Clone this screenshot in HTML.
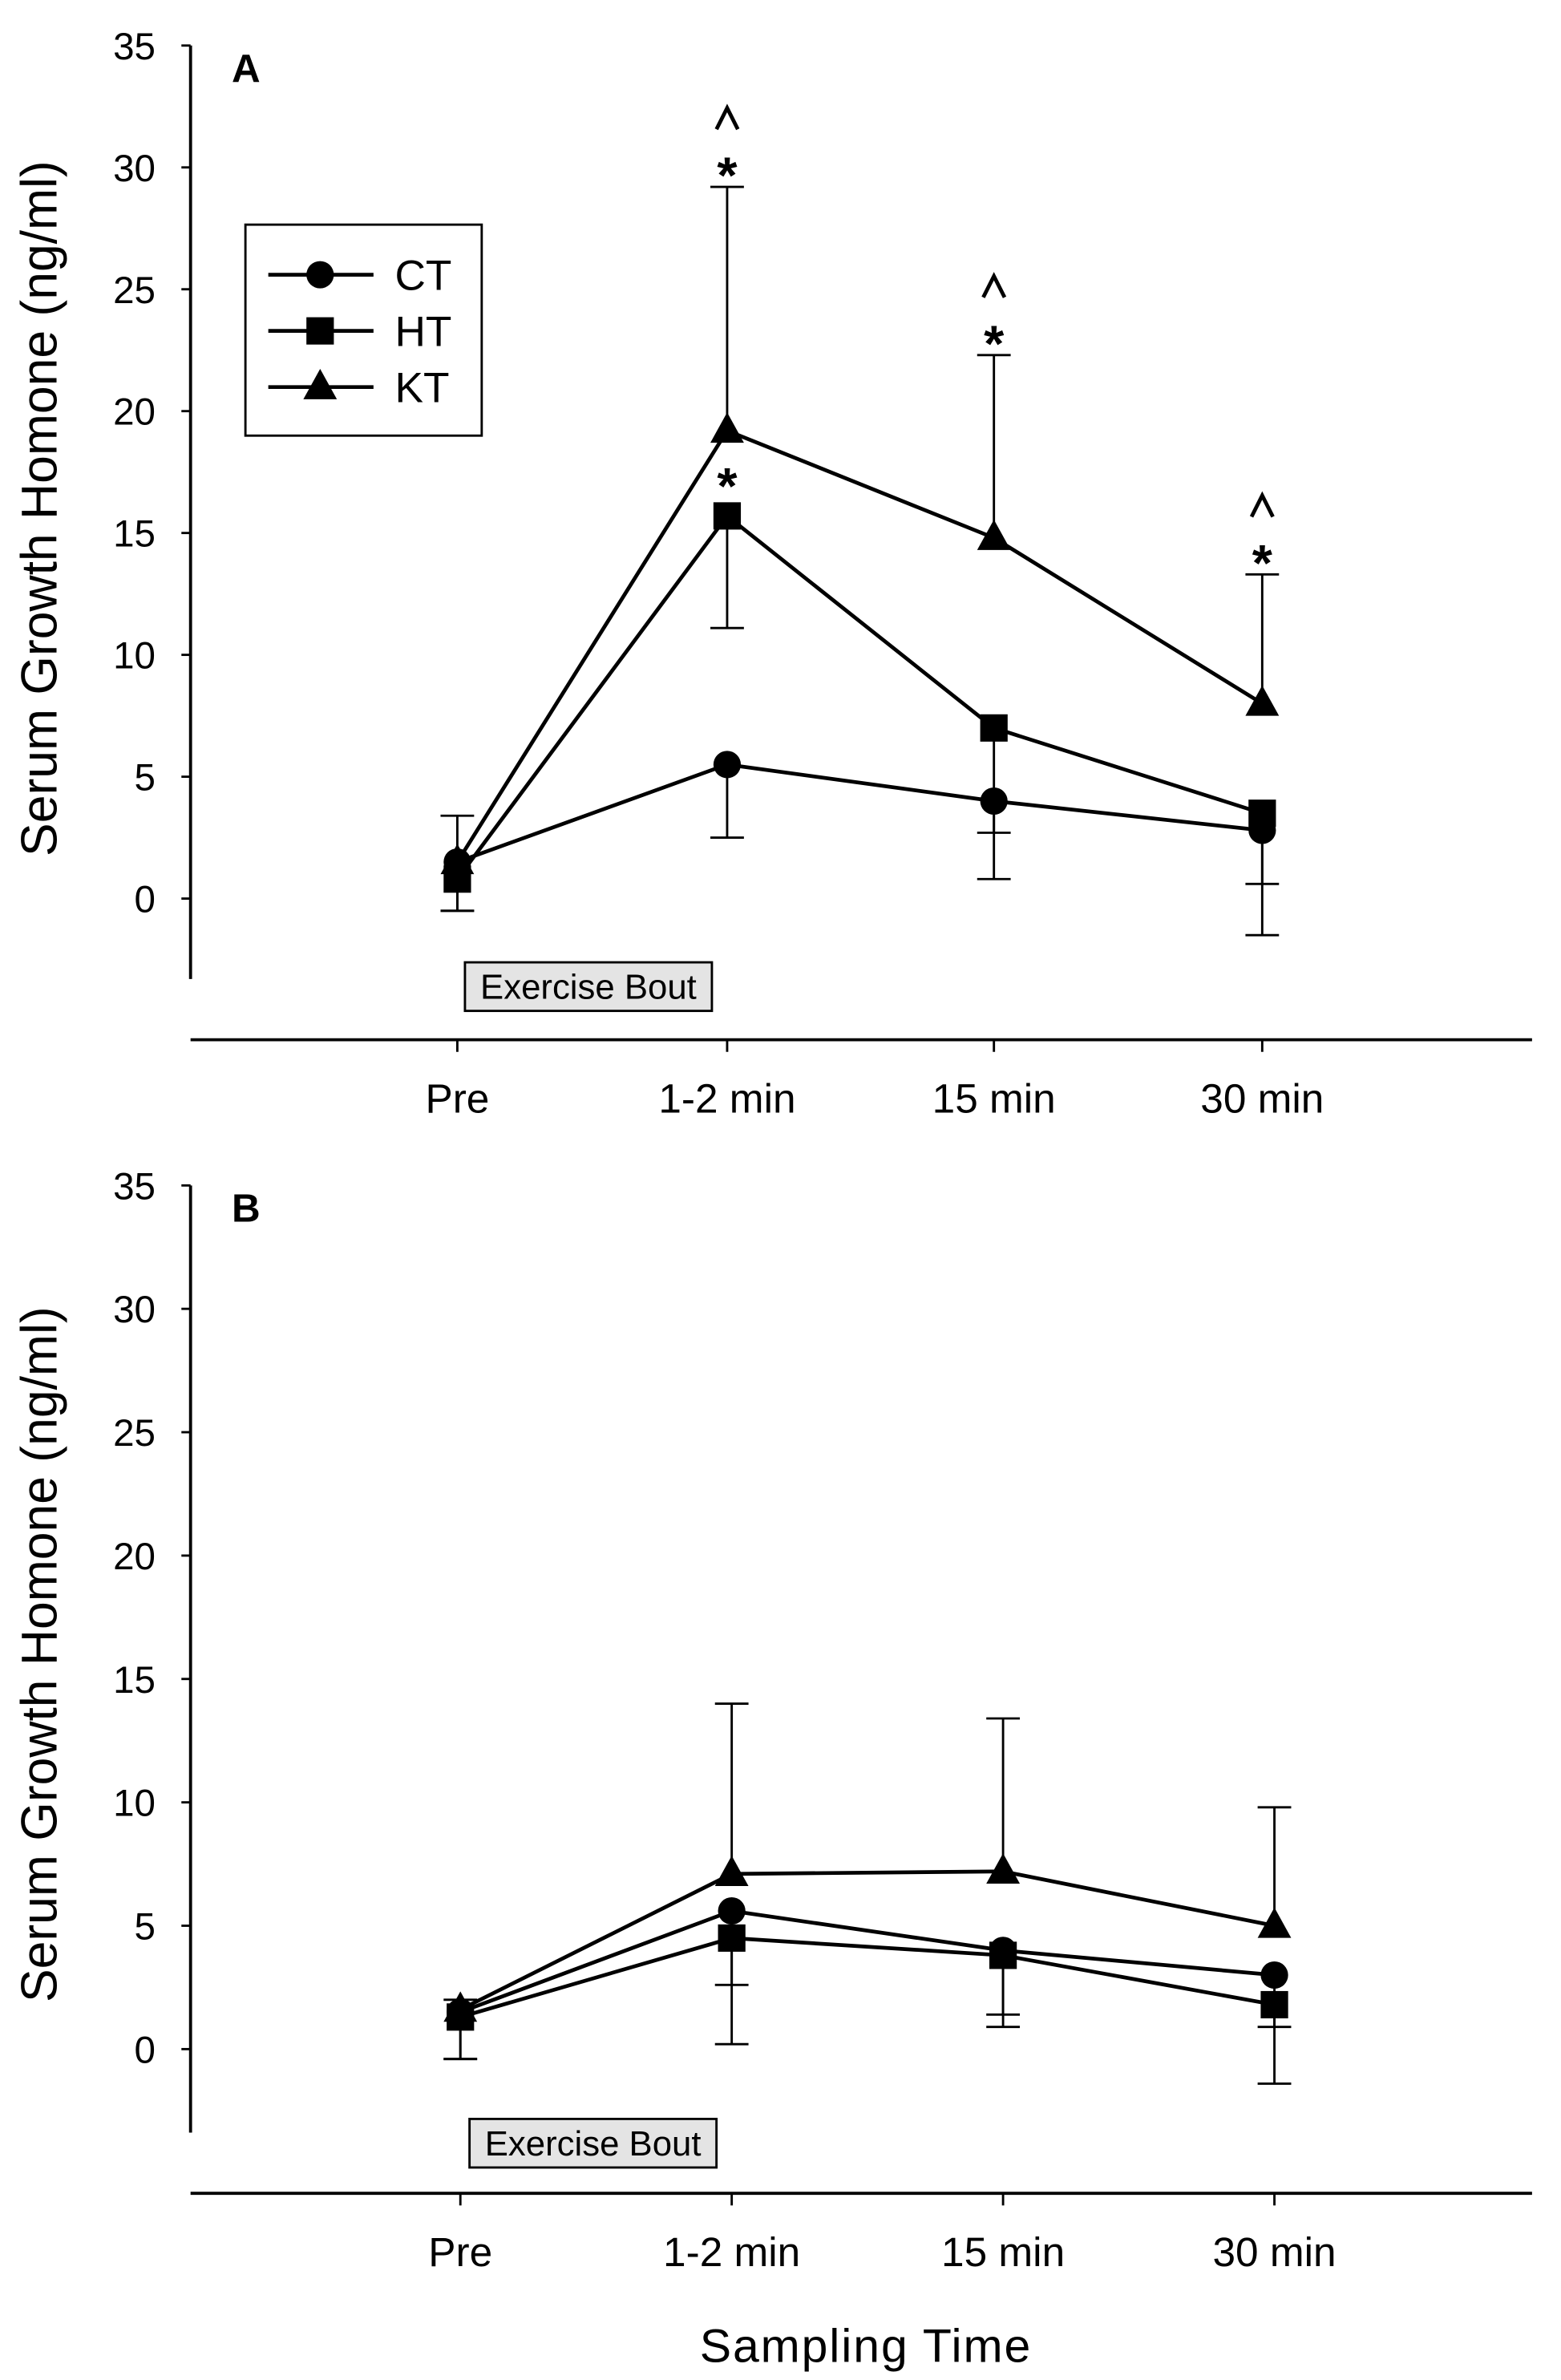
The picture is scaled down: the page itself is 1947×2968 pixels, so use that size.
<!DOCTYPE html>
<html><head><meta charset="utf-8"><style>
html,body{margin:0;padding:0;background:#fff}
svg{display:block}
text{font-family:"Liberation Sans",Arial,sans-serif;fill:#000}
</style></head><body>
<svg id="chart" width="1947" height="2968" viewBox="0 0 1024 1568" preserveAspectRatio="none" xmlns="http://www.w3.org/2000/svg">
<text x="568" y="1556" font-size="31" text-anchor="middle" letter-spacing="1">Sampling Time</text>
</svg>
<script>
const categories = ["Pre","1-2 min","15 min","30 min"];
const yTicks = [0,5,10,15,20,25,30,35];
const seriesNames = ["CT","HT","KT"];
// Panel A
const aCT = [1.5,5.5,4.0,2.8];
const aHT = [0.8,15.7,7.0,3.5];
const aKT = [1.5,19.2,14.8,8.0];
const aErrCT = [-0.5,2.5,0.8,-1.5];
const aErrHT = [-0.5,11.1,2.7,0.6];
const aErrKT = [3.4,29.2,22.3,13.3];
const aSigStar = [[1,"KT"],[2,"KT"],[3,"KT"],[1,"HT"]];
// Panel B
const bCT = [1.5,5.6,4.0,3.0];
const bHT = [1.3,4.5,3.8,1.8];
const bKT = [1.6,7.1,7.2,5.0];
const bErrCT = [-0.4,2.6,1.4,0.9];
const bErrHT = [-0.4,0.2,0.9,-1.4];
const bErrKT = [2.0,14.0,13.4,9.8];

const NS="http://www.w3.org/2000/svg";
const svg=document.getElementById('chart');
function el(tag,attrs,parent){const e=document.createElementNS(NS,tag);for(const k in attrs)e.setAttribute(k,attrs[k]);(parent||svg).appendChild(e);return e;}

function panel(cfg){
  const g=el('g',{});
  
  
  const y=v=>cfg.y0-(v)*(cfg.y0-cfg.y35)/35;
  const x=i=>cfg.xs[i];
  const ya=el('line',{x1:125,y1:cfg.y35,x2:125,y2:cfg.yAxisEnd,stroke:'#000','stroke-width':2},g);
  
  
  yTicks.forEach(t=>{
    el('line',{x1:119,y1:y(t),x2:125,y2:y(t),stroke:'#000','stroke-width':1.5},g);
    const tt=el('text',{x:102,y:y(t)+9,'font-size':25,'text-anchor':'end'},g);
    tt.textContent=t;
    
    
  });
  const yt=el('text',{x:0,y:0,'font-size':33,'text-anchor':'middle',transform:`translate(37,${cfg.titleY}) rotate(-90)`},g);
  yt.textContent='Serum Growth Homone (ng/ml)';
  
  
  const xa=el('line',{x1:125,y1:cfg.xAxisY,x2:1005,y2:cfg.xAxisY,stroke:'#000','stroke-width':2},g);
  
  
  categories.forEach((c,i)=>{
    el('line',{x1:x(i),y1:cfg.xAxisY,x2:x(i),y2:cfg.xAxisY+8,stroke:'#000','stroke-width':1.5},g);
    const t=el('text',{x:x(i),y:cfg.xAxisY+48,'font-size':27,'text-anchor':'middle'},g);
    t.textContent=c;
    
    
  });
  const pl=el('text',{x:152,y:cfg.y35+24,'font-size':26,'font-weight':'bold'},g);
  pl.textContent=cfg.label;
  
  
  const bx=el('rect',{x:cfg.boxX,y:cfg.boxY,width:162,height:32,fill:'#e4e4e4',stroke:'#000','stroke-width':1.5},g);
  
  
  const bt=el('text',{x:cfg.boxX+81,y:cfg.boxY+24,'font-size':23,'text-anchor':'middle'},g);
  bt.textContent='Exercise Bout';
  
  
  const series={CT:cfg.CT,HT:cfg.HT,KT:cfg.KT};
  const errs={CT:cfg.eCT,HT:cfg.eHT,KT:cfg.eKT};
  seriesNames.forEach(s=>{
    series[s].forEach((v,i)=>{
      const e=errs[s][i];
      const l=el('line',{x1:x(i),y1:y(v),x2:x(i),y2:y(e),stroke:'#000','stroke-width':1.5},g);
      
      
      el('line',{x1:x(i)-11,y1:y(e),x2:x(i)+11,y2:y(e),stroke:'#000','stroke-width':1.5},g);
    });
  });
  seriesNames.forEach(s=>{
    const pts=series[s].map((v,i)=>x(i)+','+y(v)).join(' ');
    const pl=el('polyline',{points:pts,fill:'none',stroke:'#000','stroke-width':2.5},g);
    
    
    series[s].forEach((v,i)=>{
      const m=marker(s,x(i),y(v),g);
      
      
    });
  });
  (cfg.sig||[]).forEach(([i,s])=>{
    const top=s==='KT'?y(errs[s][i]):y(series[s][i])-12;
    const st=el('text',{x:x(i),y:top+4,'font-size':34,'text-anchor':'middle','font-weight':'bold'},g);
    st.textContent='*';
    
    
    if(s==='KT'){
      const c=el('polyline',{points:`${x(i)-7},${top-38} ${x(i)},${top-52} ${x(i)+7},${top-38}`,fill:'none',stroke:'#000','stroke-width':2.5},g);
      
      
    }
  });
  return g;
}
function marker(s,cx,cy,g){
  if(s==='CT')return el('circle',{cx:cx,cy:cy,r:9,fill:'#000'},g);
  if(s==='HT')return el('rect',{x:cx-9,y:cy-9,width:18,height:18,fill:'#000'},g);
  return el('polygon',{points:`${cx},${cy-12} ${cx+11},${cy+8} ${cx-11},${cy+8}`,fill:'#000'},g);
}
panel({name:'panel-a',label:'A',y0:592,y35:30,yAxisEnd:645,xAxisY:685,titleY:335,xs:[300,477,652,828],
  boxX:305,boxY:634,CT:aCT,HT:aHT,KT:aKT,eCT:aErrCT,eHT:aErrHT,eKT:aErrKT,sig:aSigStar});
panel({name:'panel-b',label:'B',y0:1350,y35:781,yAxisEnd:1405,xAxisY:1445,titleY:1090,xs:[302,480,658,836],
  boxX:308,boxY:1396,CT:bCT,HT:bHT,KT:bKT,eCT:bErrCT,eHT:bErrHT,eKT:bErrKT,sig:[]});
const lg=el('g',{});


el('rect',{x:161,y:148,width:155,height:139,fill:'#fff',stroke:'#000','stroke-width':1.5},lg);
seriesNames.forEach((s,i)=>{
  const yy=181+i*37;
  const e=el('g',{},lg);
  
  
  el('line',{x1:176,y1:yy,x2:245,y2:yy,stroke:'#000','stroke-width':2.5},e);
  marker(s,210,yy,e);
  const t=el('text',{x:259,y:yy+10,'font-size':28},e);
  t.textContent=s;
});
</script>
</body></html>
